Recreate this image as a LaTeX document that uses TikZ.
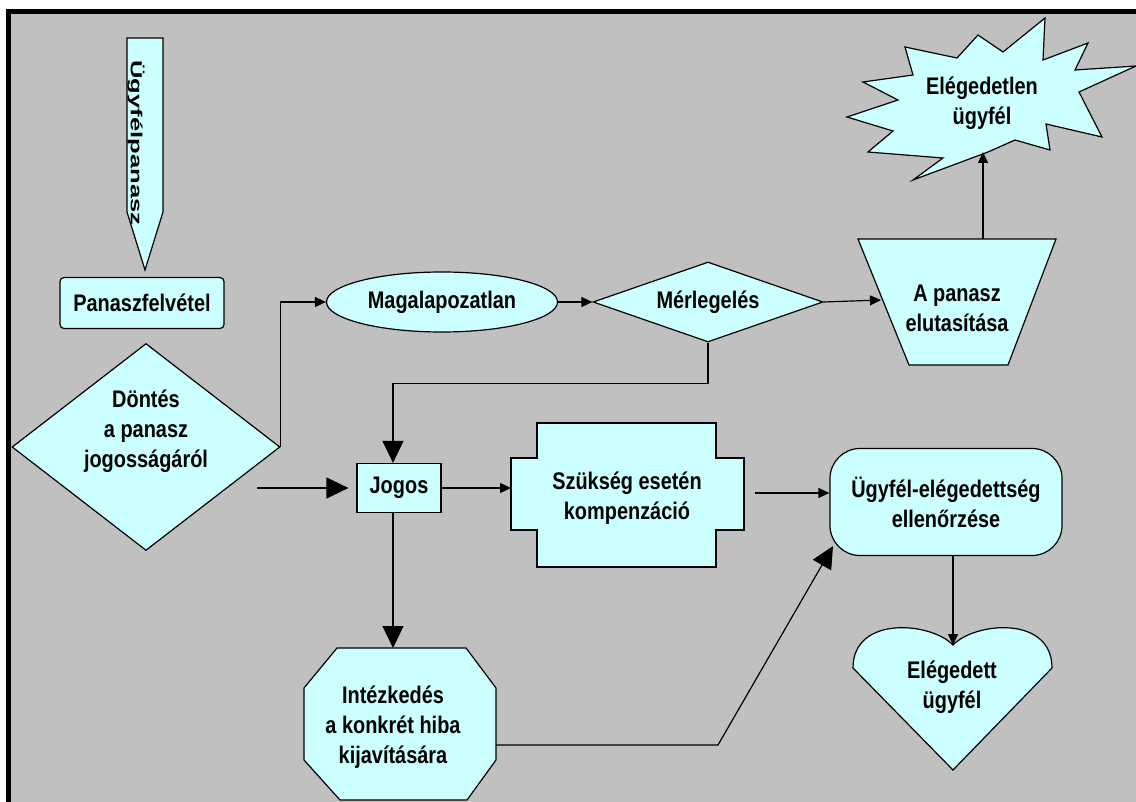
\documentclass[tikz,border=0pt]{standalone}
\usepackage{fontspec}
\usepackage{graphicx}
\setmainfont{Liberation Sans}[FakeStretch=0.83]
\newfontfamily\widesans{Liberation Sans}
\usetikzlibrary{shapes.geometric,arrows.meta}
\definecolor{panel}{HTML}{C0C0C0}
\definecolor{boxfill}{HTML}{CCFFFF}

\begin{document}
\begin{tikzpicture}[x=1pt,y=-1pt,
  every node/.style={font=\bfseries\fontsize{24}{30}\selectfont, align=center, inner sep=0pt},
  shapebox/.style={draw=black, line width=1.2pt, fill=boxfill},
  link/.style={line width=1.2pt, -{Triangle[length=11pt,width=10pt]}},
  biglink/.style={line width=1.2pt, -{Triangle[length=22pt,width=21pt]}},
]
% page, grey panel and black frame
\fill[white] (0,0) rectangle (1136,802);
\fill[panel] (11,14) rectangle (1136,802);
\fill[black] (6,9) rectangle (1136,14);
\fill[black] (6,9) rectangle (11,802);
\useasboundingbox (0,0) rectangle (1136,802);

% incoming complaint (downward pointer)
\draw[shapebox] (127,38) -- (163,38) -- (163,212) -- (145,270) -- (127,212) -- cycle;
\node[rotate=-90] (ugy) at (136,143)
  {\widesans\bfseries\fontsize{16}{16}\selectfont\scalebox{1.6}[1]{Ügyfélpanasz}};

% complaint registration
\node[shapebox, rounded corners=4pt, minimum width=164pt, minimum height=51pt] (pf) at (142,303) {Panaszfelvétel};

% decision diamond
\node[shapebox, diamond, aspect=1.29, minimum width=268pt, minimum height=207pt] (dont) at (146,447) {};
\node (donttext) at (146,431) {Döntés\\a panasz\\jogosságáról};
\coordinate (dontOut) at (257,488);

% unfounded branch
\node[shapebox, ellipse, minimum width=231pt, minimum height=60pt] (mag) at (442,302) {Magalapozatlan};
\node[shapebox, diamond, aspect=2.9, minimum width=230pt, minimum height=80pt] (mer) at (708,302) {Mérlegelés};

% rejection trapezium
\draw[shapebox] (858,239) -- (1056,239) -- (1008,365) -- (909,365) -- cycle;
\node (trap) at (957,308) {A panasz\\elutasítása};
\coordinate (trapTop) at (983,239);
\coordinate (trapLeft) at (881,300);

% dissatisfied customer burst
\draw[shapebox] (1045,18) -- (1043,60) -- (1088,43) -- (1075,70) -- (1136,66) -- (1079,92)
  -- (1102,137) -- (1046,124) -- (1050,150) -- (1015,140) -- (988,152) -- (913,180)
  -- (943,158) -- (868,152) -- (893,131) -- (847,117) -- (898,100) -- (863,82)
  -- (913,75) -- (905,47) -- (957,58) -- (978,35) -- (1003,52) -- cycle;
\node (star) at (982,103) {Elégedetlen\\ügyfél};
\coordinate (starFoot) at (983,152);

% justified branch
\node[shapebox, minimum width=84pt, minimum height=49pt] (jogos) at (399,488) {Jogos};

\draw[shapebox] (537,423) -- (716,423) -- (716,458) -- (744,458) -- (744,530) -- (716,530)
  -- (716,567) -- (537,567) -- (537,530) -- (511,530) -- (511,458) -- (537,458) -- cycle;
\node (szuk) at (627,498) {Szükség esetén\\kompenzáció};
\coordinate (szukIn) at (511,488);
\coordinate (szukOut) at (744,493);

\draw[shapebox] (337,648) -- (466,648) -- (496,688) -- (496,760) -- (467,800) -- (340,800)
  -- (304,760) -- (304,688) -- cycle;
\node (intez) at (393,727) {Intézkedés\\a konkrét hiba\\kijavítására};
\coordinate (intezTop) at (393,648);
\coordinate (intezOut) at (496,745);
\coordinate (bend) at (718,745);
\coordinate (ellFoot) at (833,546);

% satisfaction check and happy customer
\node[shapebox, rounded corners=30pt, minimum width=232pt, minimum height=107pt] (ell) at (946,502)
  {Ügyfél-elégedettség\\ellenőrzése};

\draw[shapebox] (953,645) .. controls (975,622) and (1052,615) .. (1052,668) -- (953,770)
  -- (853,668) .. controls (853,615) and (931,622) .. (953,645) -- cycle;
\node (heart) at (952,687) {Elégedett\\ügyfél};
\coordinate (heartTop) at (953,645);

% connectors
\draw[link] (dont.east) |- (mag.west);
\draw[link] (mag.east) -- (mer.west);
\draw[link] (mer.east) -- (trapLeft);
\draw[link] (trapTop) -- (starFoot);
\draw[biglink] (mer.south) -- ++(0,41) -| ([xshift=-6pt]jogos.north);
\draw[biglink, shorten >=8pt] (dontOut) -- (jogos.west);
\draw[link] (jogos.east) -- (szukIn);
\draw[biglink] ([xshift=-6pt]jogos.south) -- (intezTop);
\draw[link, shorten <=11pt] (szukOut) -- (szukOut -| ell.west);
\draw[biglink] (intezOut) -- (bend) -- (ellFoot);
\draw[link] (heartTop |- ell.south) -- (heartTop);
\end{tikzpicture}
\end{document}
